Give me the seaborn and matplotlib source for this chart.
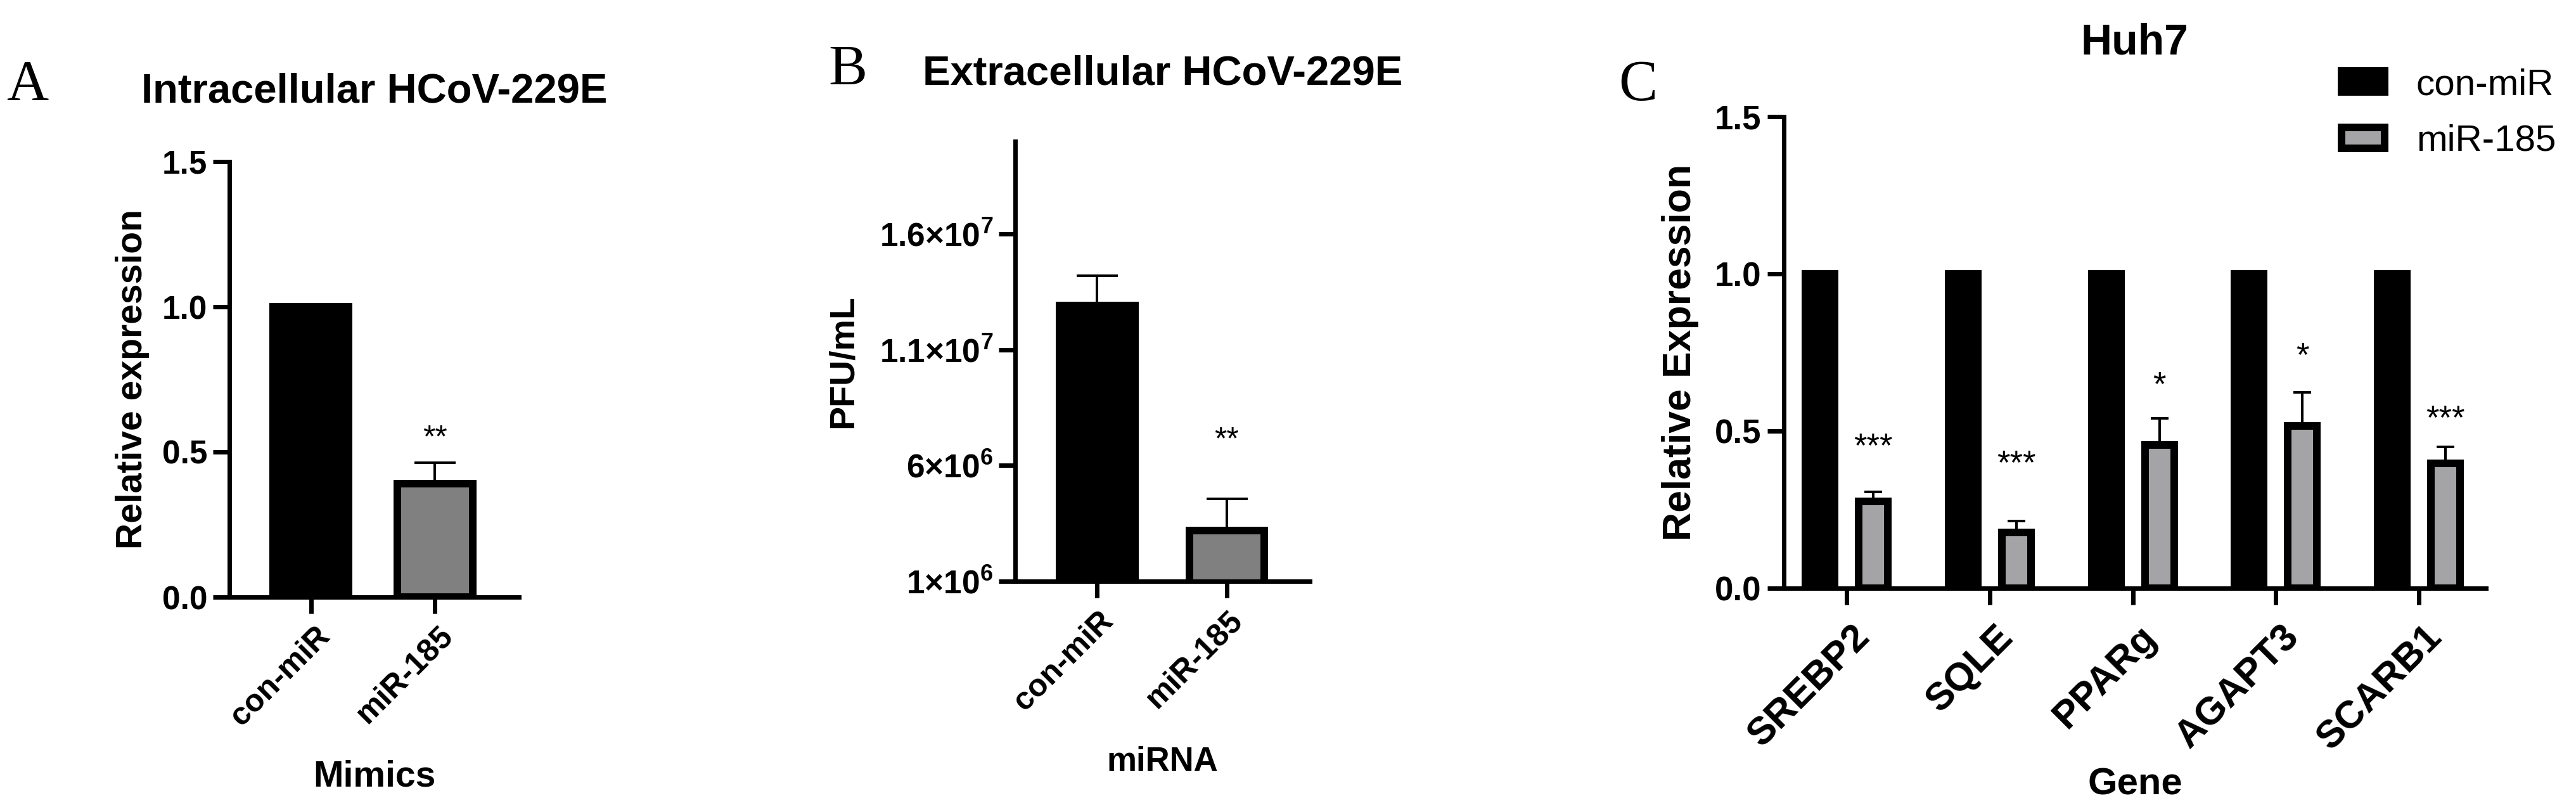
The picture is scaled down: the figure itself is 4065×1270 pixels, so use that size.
import matplotlib
matplotlib.use('Agg')
import matplotlib.pyplot as plt
import matplotlib.transforms as mtransforms
import pandas as pd
import seaborn as sns

# panel A - intracellular
mimic_groups = ['con-miR', 'miR-185']
intra_mean = [1.0, 0.39]
intra_err = [0.0, 0.073]
intra_sig = ['', '**']
intra_sig_y = [0.0, 0.516]

# panel B - extracellular
mirna_groups = ['con-miR', 'miR-185']
extra_mean = [1.29e7, 3.2e6]
extra_err = [1.3e6, 1.37e6]
extra_sig = ['', '**']
extra_sig_y = [0.0, 6.7e6]
extra_ticks = [1e6, 6e6, 1.1e7, 1.6e7]
extra_ticklabels = ['1×10$^{\\mathbf{6}}$', '6×10$^{\\mathbf{6}}$',
                    '1.1×10$^{\\mathbf{7}}$', '1.6×10$^{\\mathbf{7}}$']

# panel C - Huh7 genes
genes = ['SREBP2', 'SQLE', 'PPARg', 'AGAPT3', 'SCARB1']
con_mir = [1.0, 1.0, 1.0, 1.0, 1.0]
mir_185 = [0.277, 0.178, 0.456, 0.516, 0.397]
mir_185_err = [0.029, 0.036, 0.084, 0.107, 0.053]
gene_sig = ['***', '***', '*', '*', '***']
gene_sig_y = [0.42, 0.365, 0.615, 0.708, 0.507]

sns.set_style('ticks')
plt.rcParams['font.family'] = ['Liberation Sans', 'DejaVu Sans']
plt.rcParams['mathtext.fontset'] = 'custom'
plt.rcParams['mathtext.rm'] = 'Liberation Sans'
plt.rcParams['mathtext.bf'] = 'Liberation Sans:bold'
for k in ['text.color', 'axes.labelcolor', 'xtick.color', 'ytick.color', 'axes.edgecolor']:
    plt.rcParams[k] = 'black'

W, H = 4066, 1270
fig = plt.figure(figsize=(W / 100, H / 100), dpi=100)


def px_axes(left, right, bottom, top):
    return fig.add_axes([left / W, 1 - bottom / H, (right - left) / W, (bottom - top) / H])


def style(ax, xfs, yfs, xpad, xshift):
    sns.despine(ax=ax)
    for s in ['left', 'bottom']:
        ax.spines[s].set_linewidth(5)
        ax.spines[s].set_color('black')
    ax.tick_params(axis='both', length=19, width=5, color='black', pad=6)
    ax.tick_params(axis='x', pad=xpad)
    plt.setp(ax.get_yticklabels(), fontsize=yfs, fontweight='bold')
    shift = mtransforms.ScaledTranslation(xshift / 100, 0, fig.dpi_scale_trans)
    for lab in ax.get_xticklabels():
        lab.set(fontsize=xfs, fontweight='bold', rotation=45, ha='right', va='top',
                rotation_mode='anchor')
        lab.set_transform(lab.get_transform() + shift)


def up_errors(ax, container, means, errs, cap):
    xs = [p.get_x() + p.get_width() / 2 for p in container.patches]
    ax.errorbar(xs, means, yerr=[[0] * len(errs), errs], fmt='none', ecolor='black',
                elinewidth=2.9, capsize=cap, capthick=2.9, zorder=1)
    return xs


# ---- A ----
axA = px_axes(362, 819, 942, 255)
sns.barplot(x=mimic_groups, y=intra_mean, hue=mimic_groups, palette=['black', '#808080'],
            width=0.61, edgecolor='black', linewidth=8.64, legend=False, ax=axA)
xs = [p.get_x() + p.get_width() / 2 for p in axA.patches]
axA.errorbar(xs[1:], intra_mean[1:], yerr=[[0], intra_err[1:]], fmt='none', ecolor='black',
             elinewidth=2.9, capsize=23.4, capthick=2.9, zorder=1)
for x, s, y in zip(xs, intra_sig, intra_sig_y):
    if s:
        axA.text(x, y, s, ha='center', va='baseline', fontsize=36)
axA.set_xlim(-0.66, 1.68)
axA.set_ylim(0, 1.5)
axA.set_yticks([0.0, 0.5, 1.0, 1.5])
axA.set_yticklabels(['0.0', '0.5', '1.0', '1.5'])
style(axA, 36, 37, 8, 6)
axA.set_ylabel('Relative expression', fontsize=41, fontweight='bold')
axA.yaxis.set_label_coords(-0.276, 0.5)
axA.set_xlabel('Mimics', fontsize=41, fontweight='bold', va='top')
axA.xaxis.set_label_coords(0.5, -0.373)

# ---- B ----
axB = px_axes(1602, 2067, 917, 223)
sns.barplot(x=mirna_groups, y=extra_mean, hue=mirna_groups, palette=['black', '#808080'],
            width=0.58, edgecolor='black', linewidth=8.64, legend=False, ax=axB)
xs = [p.get_x() + p.get_width() / 2 for p in axB.patches]
axB.errorbar(xs, extra_mean, yerr=[[0, 0], extra_err], fmt='none', ecolor='black',
             elinewidth=2.9, capsize=23.4, capthick=2.9, zorder=1)
for x, s, y in zip(xs, extra_sig, extra_sig_y):
    if s:
        axB.text(x, y, s, ha='center', va='baseline', fontsize=36)
axB.set_xlim(-0.633, 1.64)
axB.set_ylim(1e6, 2.0e7)
axB.set_yticks(extra_ticks)
axB.set_yticklabels(extra_ticklabels)
style(axB, 36, 37, 9, 2)
axB.set_ylabel('PFU/mL', fontsize=40, fontweight='bold')
axB.yaxis.set_label_coords(-0.527, 0.5)
axB.set_xlabel('miRNA', fontsize=38, fontweight='bold', va='top')
axB.xaxis.set_label_coords(0.5, -0.375)

# ---- C ----
axC = px_axes(2815, 3923, 928, 184)
df = pd.DataFrame({'Gene': genes * 2,
                   'Group': ['con-miR'] * len(genes) + ['miR-185'] * len(genes),
                   'value': con_mir + mir_185})
sns.barplot(data=df, x='Gene', y='value', hue='Group', palette=['black', '#a3a4a8'],
            width=0.744, gap=0.452, edgecolor='black', linewidth=8.64, ax=axC)
xs = up_errors(axC, axC.containers[1], mir_185, mir_185_err, 10)
for x, s, y in zip(xs, gene_sig, gene_sig_y):
    axC.text(x, y, s, ha='center', va='baseline', fontsize=38)
axC.set_xlim(-0.44, 4.47)
axC.set_ylim(0, 1.5)
axC.set_yticks([0.0, 0.5, 1.0, 1.5])
axC.set_yticklabels(['0.0', '0.5', '1.0', '1.5'])
style(axC, 44, 38, 16, 8)
axC.tick_params(axis='y', pad=7)
axC.set_ylabel('Relative Expression', fontsize=45, fontweight='bold')
axC.yaxis.set_label_coords(-0.121, 0.5)
axC.set_xlabel('Gene', fontsize=43, fontweight='bold', va='top')
axC.xaxis.set_label_coords(0.5, -0.38)
handles, labels = axC.get_legend_handles_labels()
axC.legend(handles, labels, loc='upper left', bbox_to_anchor=(3695 / W, 1 - 107 / H),
           bbox_transform=fig.transFigure, frameon=False, fontsize=42, borderpad=0,
           borderaxespad=0, handlelength=1.17, handleheight=0.5, handletextpad=0.85,
           labelspacing=0.6)

# titles and panel letters
for ax, title, base, fs in [(axA, 'Intracellular HCoV-229E', 162, 47),
                            (axB, 'Extracellular HCoV-229E', 134, 47),
                            (axC, 'Huh7', 85, 49)]:
    pos = ax.get_position()
    fig.text(pos.x0 + pos.width / 2, 1 - base / H, title, ha='center', va='baseline',
             fontsize=fs, fontweight='bold')
for letter, x, base in [('A', 10, 158), ('B', 1307, 134), ('C', 2554, 158)]:
    fig.text(x / W, 1 - base / H, letter, ha='left', va='baseline', fontsize=66,
             family=['Liberation Serif', 'DejaVu Serif'])

fig.savefig('out.png', dpi=100)
